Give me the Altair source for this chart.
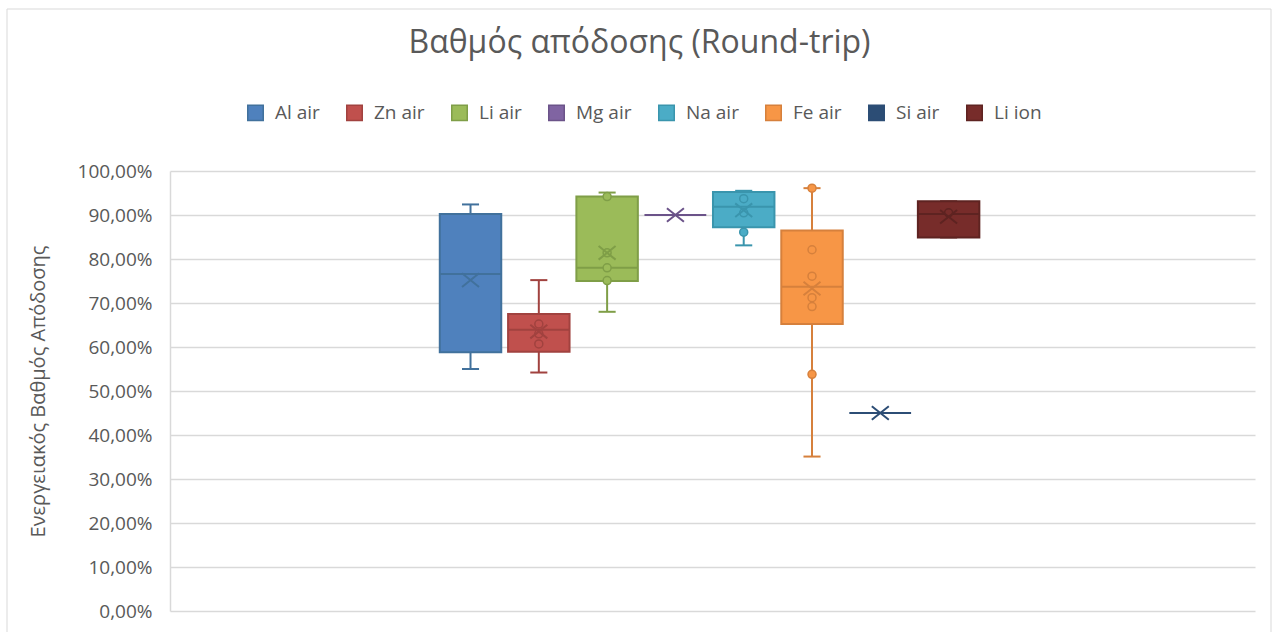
import altair as alt
import pandas as pd

# Battery chemistries, in legend order
series = ["Al air", "Zn air", "Li air", "Mg air", "Na air", "Fe air", "Si air", "Li ion"]
fill_colors = ["#4F81BD", "#C0504D", "#9BBB59", "#8064A2", "#4BACC6", "#F79646", "#2C4D75", "#772C2A"]
edge_colors = ["#41719C", "#A1423F", "#7F9E47", "#6B5389", "#3A95AD", "#D6803C", "#2C4D75", "#5E2321"]

# Box-and-whisker statistics (round-trip efficiency, %)
whisker_low = [55.0, 54.2, 68.0, 90.0, 83.1, 35.1, 45.0, 84.9]
quartile_1 = [58.8, 58.9, 75.0, 90.0, 87.2, 65.2, 45.0, 84.9]
median = [76.6, 63.9, 78.0, 90.0, 91.9, 73.7, 45.0, 90.2]
quartile_3 = [90.2, 67.5, 94.2, 90.0, 95.2, 86.5, 45.0, 93.1]
whisker_high = [92.4, 75.2, 95.1, 90.0, 95.5, 96.1, 45.0, 93.1]
mean_value = [75.2, 63.5, 81.4, 90.0, 91.1, 73.3, 45.0, 89.6]

# Individual data points shown on the boxes
point_series = ["Zn air"] * 3 + ["Li air"] * 4 + ["Na air"] * 3 + ["Fe air"] * 6 + ["Li ion"]
point_values = [65.2, 63.0, 60.7,
                94.2, 81.4, 78.0, 75.1,
                93.7, 90.5, 86.1,
                96.1, 82.1, 76.1, 71.2, 69.2, 53.8,
                90.5]

y_ticks = [0, 10, 20, 30, 40, 50, 60, 70, 80, 90, 100]

pos = {s: i for i, s in enumerate(series)}
box_df = pd.DataFrame({
    "series": series,
    "pos": list(range(len(series))),
    "wlo": whisker_low,
    "q1": quartile_1,
    "med": median,
    "q3": quartile_3,
    "whi": whisker_high,
    "mean": mean_value,
})
pts_df = pd.DataFrame({
    "series": point_series,
    "pos": [pos[s] for s in point_series],
    "value": point_values,
})

FONT = "Open Sans"
TEXT = "#595959"
GRID = "#d9d9d9"

x_scale = alt.Scale(domain=[-4.40, 11.486], nice=False, zero=False)
y_scale = alt.Scale(domain=[0, 100], nice=False)
fill_scale = alt.Scale(domain=series, range=fill_colors)
stroke_scale = alt.Scale(domain=series, range=edge_colors)

y_axis = alt.Axis(
    values=y_ticks,
    labelExpr="replace(format(datum.value, '.2f'), '.', ',') + '%'",
    labelFont=FONT, labelFontSize=19, labelColor=TEXT, labelPadding=18,
    ticks=False, domainColor=GRID, domainWidth=1.5,
    grid=True, gridColor=GRID, gridWidth=1.5,
    title="Ενεργειακός Βαθμός Απόδοσης",
    titleFont=FONT, titleFontSize=20, titleColor=TEXT, titleFontWeight="normal",
    titleX=-132, titleY=220, titleAngle=270, titleAlign="center", titleBaseline="middle",
)

legend = alt.Legend(
    title=None, orient="none", legendX=76, legendY=-68,
    direction="horizontal", columns=8,
    symbolType="square", symbolSize=240, symbolStrokeWidth=1.5,
    labelFont=FONT, labelFontSize=19, labelColor=TEXT,
    labelOffset=10, columnPadding=23,
)

fill_enc = alt.Fill("series:N", scale=fill_scale, legend=legend)
stroke_enc = alt.Stroke("series:N", scale=stroke_scale, legend=legend)

base = alt.Chart(box_df).transform_calculate(
    bx0="datum.pos - 0.45", bx1="datum.pos + 0.45",
    cx0="datum.pos - 0.125", cx1="datum.pos + 0.125",
)

whisk_low = base.mark_rule(strokeWidth=2).encode(
    x=alt.X("pos:Q", scale=x_scale, axis=None),
    y=alt.Y("wlo:Q", scale=y_scale, axis=y_axis), y2="q1:Q",
    stroke=stroke_enc,
)
whisk_high = base.mark_rule(strokeWidth=2).encode(
    x=alt.X("pos:Q", scale=x_scale, axis=None),
    y=alt.Y("q3:Q", scale=y_scale, axis=y_axis), y2="whi:Q",
    stroke=stroke_enc,
)
cap_low = base.mark_rule(strokeWidth=2).encode(
    x=alt.X("cx0:Q", scale=x_scale, axis=None), x2="cx1:Q",
    y=alt.Y("wlo:Q", scale=y_scale, axis=y_axis),
    stroke=stroke_enc,
)
cap_high = base.mark_rule(strokeWidth=2).encode(
    x=alt.X("cx0:Q", scale=x_scale, axis=None), x2="cx1:Q",
    y=alt.Y("whi:Q", scale=y_scale, axis=y_axis),
    stroke=stroke_enc,
)
boxes = base.mark_rect(strokeWidth=2).encode(
    x=alt.X("bx0:Q", scale=x_scale, axis=None), x2="bx1:Q",
    y=alt.Y("q1:Q", scale=y_scale, axis=y_axis), y2="q3:Q",
    fill=fill_enc, stroke=stroke_enc,
)
medians = base.mark_rule(strokeWidth=2).encode(
    x=alt.X("bx0:Q", scale=x_scale, axis=None), x2="bx1:Q",
    y=alt.Y("med:Q", scale=y_scale, axis=y_axis),
    stroke=stroke_enc,
)
points = alt.Chart(pts_df).mark_point(
    shape="circle", filled=True, size=64, strokeWidth=1.5, opacity=1
).encode(
    x=alt.X("pos:Q", scale=x_scale, axis=None),
    y=alt.Y("value:Q", scale=y_scale, axis=y_axis),
    fill=fill_enc, stroke=stroke_enc,
)
means = base.mark_point(
    shape="M-1,-0.8L1,0.8M-1,0.8L1,-0.8", filled=False, size=289, strokeWidth=2, opacity=1
).encode(
    x=alt.X("pos:Q", scale=x_scale, axis=None),
    y=alt.Y("mean:Q", scale=y_scale, axis=y_axis),
    stroke=stroke_enc,
)

# Thin outer frame around the whole chart
frame = alt.Chart(pd.DataFrame({"f": [0]})).mark_rect(
    fill=None, stroke=GRID, strokeWidth=1
).encode(
    x=alt.value(-163), x2=alt.value(1101), y=alt.value(-162), y2=alt.value(500)
)

chart = alt.layer(
    frame, whisk_low, whisk_high, cap_low, cap_high, boxes, medians, points, means
).properties(
    width=1085, height=440,
    autosize=alt.AutoSizeParams(type="none"),
    padding={"left": 170, "top": 171, "right": 17, "bottom": 21},
    title=alt.TitleParams(
        "Βαθμός απόδοσης (Round-trip)",
        font=FONT, fontSize=32, color=TEXT, fontWeight="normal",
        anchor="middle", frame="group", dx=-73, offset=-51,
    ),
).configure(background="white").configure_view(strokeWidth=0, strokeOpacity=0)

chart.save("out.html", embed_options={"renderer": "svg", "actions": False})
